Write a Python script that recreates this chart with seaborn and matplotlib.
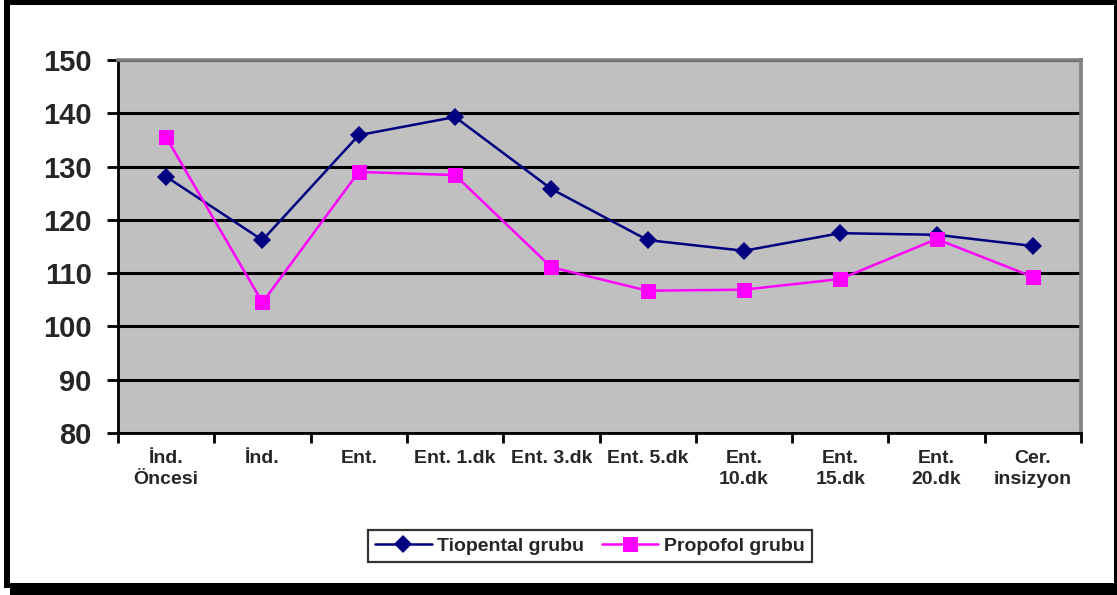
import numpy as np
import pandas as pd
import matplotlib
matplotlib.use("Agg")
import matplotlib.pyplot as plt
from matplotlib.patches import Rectangle
import seaborn as sns

# Measurement times
categories = ["İnd.\nÖncesi", "İnd.", "Ent.", "Ent. 1.dk", "Ent. 3.dk",
              "Ent. 5.dk", "Ent.\n10.dk", "Ent.\n15.dk", "Ent.\n20.dk",
              "Cer.\ninsizyon"]

# Group means
tiopental = [128.1, 116.2, 135.9, 139.3, 125.8, 116.2, 114.2, 117.5, 117.2, 115.1]
propofol = [135.5, 104.5, 129.0, 128.4, 111.1, 106.7, 106.9, 108.9, 116.4, 109.3]

y_ticks = [80, 90, 100, 110, 120, 130, 140, 150]

series_names = ["Tiopental grubu", "Propofol grubu"]

df = pd.DataFrame({
    "pos": list(range(len(categories))) * 2,
    "value": tiopental + propofol,
    "grup": [series_names[0]] * len(categories) + [series_names[1]] * len(categories),
})

sns.set_theme(style="white")
plt.rcParams["font.family"] = ["Liberation Sans", "DejaVu Sans"]
plt.rcParams["font.weight"] = "bold"

W, H = 1117, 595
fig = plt.figure(figsize=(W / 100, H / 100), dpi=100)
fig.patch.set_facecolor("white")


def px_rect(x0, y0, x1, y1):
    """Black bar given in pixel coordinates measured from the top-left."""
    return Rectangle((x0 / W, 1 - y1 / H), (x1 - x0) / W, (y1 - y0) / H,
                     transform=fig.transFigure, facecolor="black",
                     edgecolor="none", zorder=0)


# Outer frame with a drop shadow on the bottom/right
for r in [px_rect(4, 0, 10, 588), px_rect(4, 0, W, 5),
          px_rect(1114, 0, W, H), px_rect(10, 583, W, H)]:
    fig.patches.append(r)

left, right, top, bottom = 118, 1081, 60, 433
ax = fig.add_axes([left / W, 1 - bottom / H, (right - left) / W, (bottom - top) / H])
ax.set_facecolor("#C0C0C0")

styles = {
    series_names[0]: dict(color="#000080", marker="D", markersize=9.2),
    series_names[1]: dict(color="#FF00FF", marker="s", markersize=10.8),
}
for name in series_names:
    sns.lineplot(data=df[df["grup"] == name], x="pos", y="value", ax=ax,
                 label=name, linewidth=1.8, markeredgewidth=0, zorder=3,
                 **styles[name])

ax.set_ylim(80, 150)
ax.set_xlim(-0.5, len(categories) - 0.5)
ax.set_yticks(y_ticks)
ax.set_yticklabels([str(v) for v in y_ticks], fontsize=21, fontweight="bold")

# Tick marks between categories, labels centred on each category
ax.set_xticks(np.arange(len(categories) + 1) - 0.5)
ax.set_xticklabels([])
ax.set_xticks(np.arange(len(categories)), minor=True)
ax.set_xticklabels(categories, minor=True, fontsize=14, fontweight="bold",
                   linespacing=1.3, va="top")
ax.tick_params(axis="x", which="minor", length=0, pad=12)
ax.tick_params(axis="x", which="major", direction="out", length=7, width=2,
               color="black", bottom=True)
ax.tick_params(axis="y", direction="out", length=8, width=2, color="black",
               left=True, pad=11)
ax.set_xlabel("")
ax.set_ylabel("")

ax.yaxis.grid(True, color="black", linewidth=2.2)
ax.set_axisbelow(True)

for s in ["left", "bottom"]:
    ax.spines[s].set_color("black")
    ax.spines[s].set_linewidth(2)
for s in ["top", "right"]:
    ax.spines[s].set_color("#808080")
    ax.spines[s].set_linewidth(2.6)

handles, labels = ax.get_legend_handles_labels()
ax.legend_.remove()
leg = fig.legend(handles, labels, loc="center", ncol=2,
                 bbox_to_anchor=(590 / W, 1 - 546 / H),
                 prop={"size": 14, "weight": "bold"},
                 frameon=True, fancybox=False, shadow=False,
                 handlelength=2.9, handletextpad=0.3, columnspacing=0.9,
                 borderpad=0.35, borderaxespad=0)
leg.get_frame().set_edgecolor("black")
leg.get_frame().set_linewidth(1.6)
leg.get_frame().set_facecolor("white")

fig.savefig("out.png", dpi=100, facecolor=fig.get_facecolor())
